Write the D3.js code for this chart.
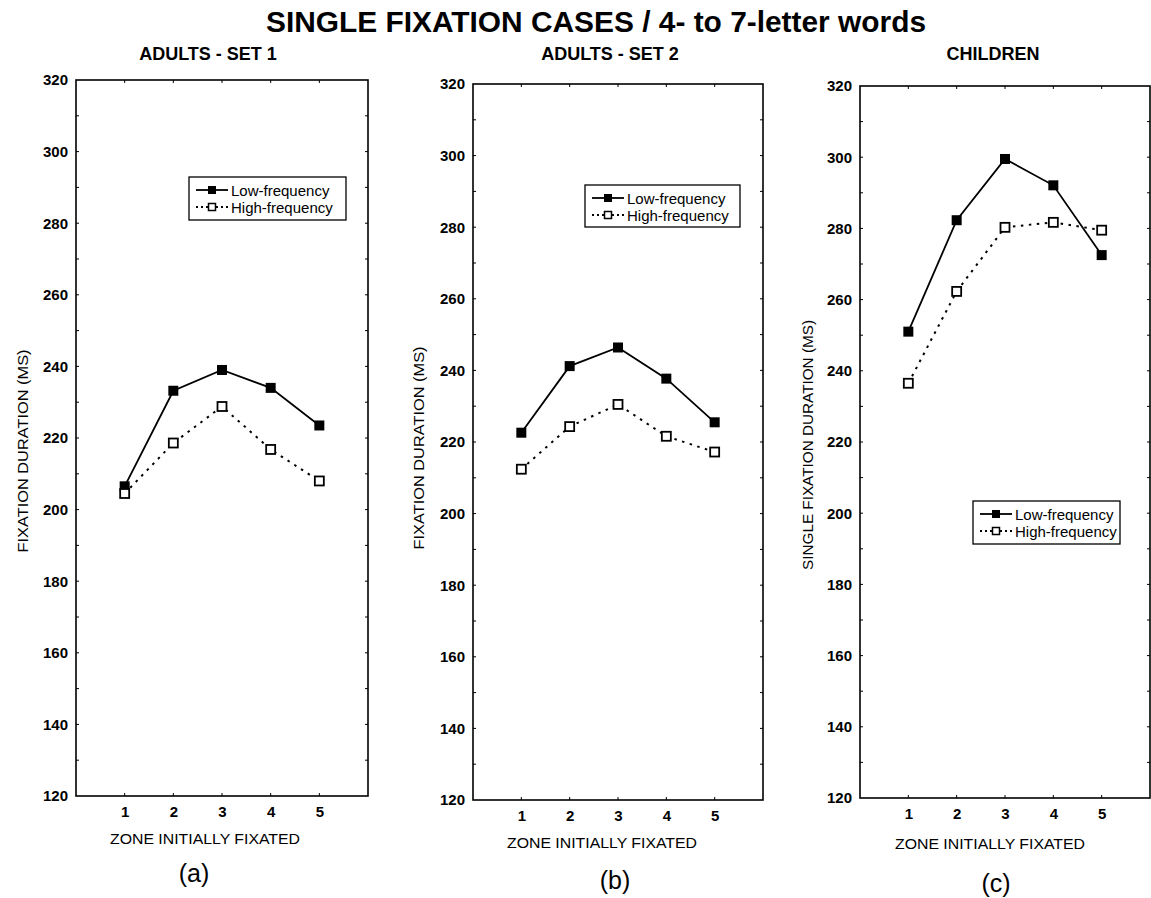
<!DOCTYPE html>
<html><head><meta charset="utf-8">
<script src="https://cdn.jsdelivr.net/npm/d3@7"></script>
<style>body{margin:0;background:#fff}svg{display:block}</style>
</head><body>
<svg id="c" width="1151" height="898"></svg>
<script>
const zones = [1, 2, 3, 4, 5];
const yTicks = [120, 140, 160, 180, 200, 220, 240, 260, 280, 300, 320];
const panelTitles = ["ADULTS - SET 1", "ADULTS - SET 2", "CHILDREN"];
const panelLetters = ["(a)", "(b)", "(c)"];
const yLabels = ["FIXATION DURATION (MS)", "FIXATION DURATION (MS)", "SINGLE FIXATION DURATION (MS)"];
const seriesNames = ["Low-frequency", "High-frequency"];
const lowA = [206.5, 233.2, 239, 234, 223.5];
const highA = [204.5, 218.6, 228.8, 216.8, 208];
const lowB = [222.6, 241.2, 246.4, 237.7, 225.5];
const highB = [212.4, 224.3, 230.5, 221.6, 217.2];
const lowC = [251, 282.3, 299.5, 292.1, 272.5];
const highC = [236.5, 262.3, 280.3, 281.7, 279.5];

const panels = [
  {l:76, r:368, t:80, b:796, low:lowA, high:highA, leg:[189,177,157,43], titleX:208,
   ylx:28, yly:451, ylw:203, xtX:205, xtY:844, letX:194, letY:882},
  {l:473, r:763, t:84, b:800, low:lowB, high:highB, leg:[585,185,155,42], titleX:610,
   ylx:424, yly:448, ylw:203, xtX:602, xtY:848, letX:615, letY:889},
  {l:860, r:1150, t:86, b:798, low:lowC, high:highC, leg:[973,501,147,43], titleX:993,
   ylx:813, yly:445, ylw:250, xtX:990, xtY:849, letX:996, letY:892}
];

const svg = d3.select("#c");
const F = "'Liberation Sans', Arial, sans-serif";

svg.append("text").attr("x", 596).attr("y", 32).attr("text-anchor","middle")
  .attr("font-family", F).attr("font-weight","bold").attr("font-size", 29)
  .attr("textLength", 660).attr("lengthAdjust","spacingAndGlyphs")
  .text("SINGLE FIXATION CASES / 4- to 7-letter words");

panels.forEach((p, i) => {
  const g = svg.append("g");
  const x = d3.scaleLinear().domain([0, 6]).range([p.l, p.r]);
  const y = d3.scaleLinear().domain([120, 320]).range([p.b, p.t]);

  g.append("text").attr("x", p.titleX).attr("y", 60).attr("text-anchor","middle")
    .attr("font-family", F).attr("font-weight","bold").attr("font-size", 18)
    .text(panelTitles[i]);

  g.append("rect").attr("x", p.l).attr("y", p.t).attr("width", p.r - p.l).attr("height", p.b - p.t)
    .attr("fill","none").attr("stroke","#000").attr("stroke-width", 1.6);

  const yAx = d3.axisLeft(y).tickValues(yTicks).tickSize(0).tickPadding(8).tickFormat(d3.format("d"));
  const ya = g.append("g").attr("transform", `translate(${p.l},0)`).call(yAx);
  ya.select(".domain").remove();
  ya.selectAll("text").attr("font-family", F).attr("font-weight","bold").attr("font-size", 15).attr("fill","#000");

  const minor = d3.range(130, 320, 10);
  g.selectAll(".tl").data(minor).join("line")
    .attr("x1", p.l).attr("x2", p.l + 3).attr("y1", d => y(d)).attr("y2", d => y(d))
    .attr("stroke","#000").attr("stroke-width",1);
  g.selectAll(".tr").data(minor).join("line")
    .attr("x1", p.r).attr("x2", p.r - 3).attr("y1", d => y(d)).attr("y2", d => y(d))
    .attr("stroke","#000").attr("stroke-width",1);

  const xAx = d3.axisBottom(x).tickValues(zones).tickSize(0).tickPadding(10).tickFormat(d3.format("d"));
  const xa = g.append("g").attr("transform", `translate(0,${p.b})`).call(xAx);
  xa.select(".domain").remove();
  xa.selectAll("text").attr("font-family", F).attr("font-weight","bold").attr("font-size", 15).attr("fill","#000");
  g.selectAll(".tb").data(zones).join("line")
    .attr("x1", d => x(d)).attr("x2", d => x(d)).attr("y1", p.b).attr("y2", p.b - 3)
    .attr("stroke","#000");
  g.selectAll(".tt").data(zones).join("line")
    .attr("x1", d => x(d)).attr("x2", d => x(d)).attr("y1", p.t).attr("y2", p.t + 3)
    .attr("stroke","#000");

  g.append("text").attr("x", p.xtX).attr("y", p.xtY).attr("text-anchor","middle")
    .attr("font-family", F).attr("font-size", 15)
    .attr("textLength", 190).attr("lengthAdjust","spacingAndGlyphs")
    .text("ZONE INITIALLY FIXATED");
  g.append("text").attr("x", p.letX).attr("y", p.letY).attr("text-anchor","middle")
    .attr("font-family", F).attr("font-size", 25).text(panelLetters[i]);

  g.append("text").attr("transform", `translate(${p.ylx},${p.yly}) rotate(-90)`)
    .attr("text-anchor","middle").attr("font-family", F).attr("font-size", 15)
    .attr("textLength", p.ylw).attr("lengthAdjust","spacingAndGlyphs")
    .text(yLabels[i]);

  const line = d3.line().x((d, k) => x(zones[k])).y(d => y(d));
  g.append("path").datum(p.low).attr("d", line).attr("fill","none").attr("stroke","#000").attr("stroke-width",1.8);
  g.append("path").datum(p.high).attr("d", line).attr("fill","none").attr("stroke","#000")
    .attr("stroke-width",2).attr("stroke-dasharray","2.5,5.5");
  const s = 10;
  g.selectAll(".ml").data(p.low).join("rect")
    .attr("x", (d, k) => x(zones[k]) - s/2).attr("y", d => y(d) - s/2).attr("width", s).attr("height", s)
    .attr("fill","#000");
  g.selectAll(".mh").data(p.high).join("rect")
    .attr("x", (d, k) => x(zones[k]) - 4.5).attr("y", d => y(d) - 4.5).attr("width", 9).attr("height", 9)
    .attr("fill","#fff").attr("stroke","#000").attr("stroke-width",1.8);

  const [lx, ly, lw, lh] = p.leg;
  const lg = g.append("g");
  lg.append("rect").attr("x", lx).attr("y", ly).attr("width", lw).attr("height", lh)
    .attr("fill","#fff").attr("stroke","#000").attr("stroke-width",1.3);
  seriesNames.forEach((nm, k) => {
    const yy = ly + 13 + k * 17;
    lg.append("line").attr("x1", lx + 7).attr("x2", lx + 39).attr("y1", yy).attr("y2", yy)
      .attr("stroke","#000").attr("stroke-width", 1.8).attr("stroke-dasharray", k ? "2,3" : null);
    if (k) {
      lg.append("rect").attr("x", lx + 19.5).attr("y", yy - 3.5).attr("width", 7).attr("height", 7)
        .attr("fill","#fff").attr("stroke","#000").attr("stroke-width", 1.5);
    } else {
      lg.append("rect").attr("x", lx + 19).attr("y", yy - 4).attr("width", 8).attr("height", 8)
        .attr("fill","#000");
    }
    lg.append("text").attr("x", lx + 42).attr("y", yy + 5.5)
      .attr("font-family", F).attr("font-size", 15).text(nm);
  });
});
</script>
</body></html>
